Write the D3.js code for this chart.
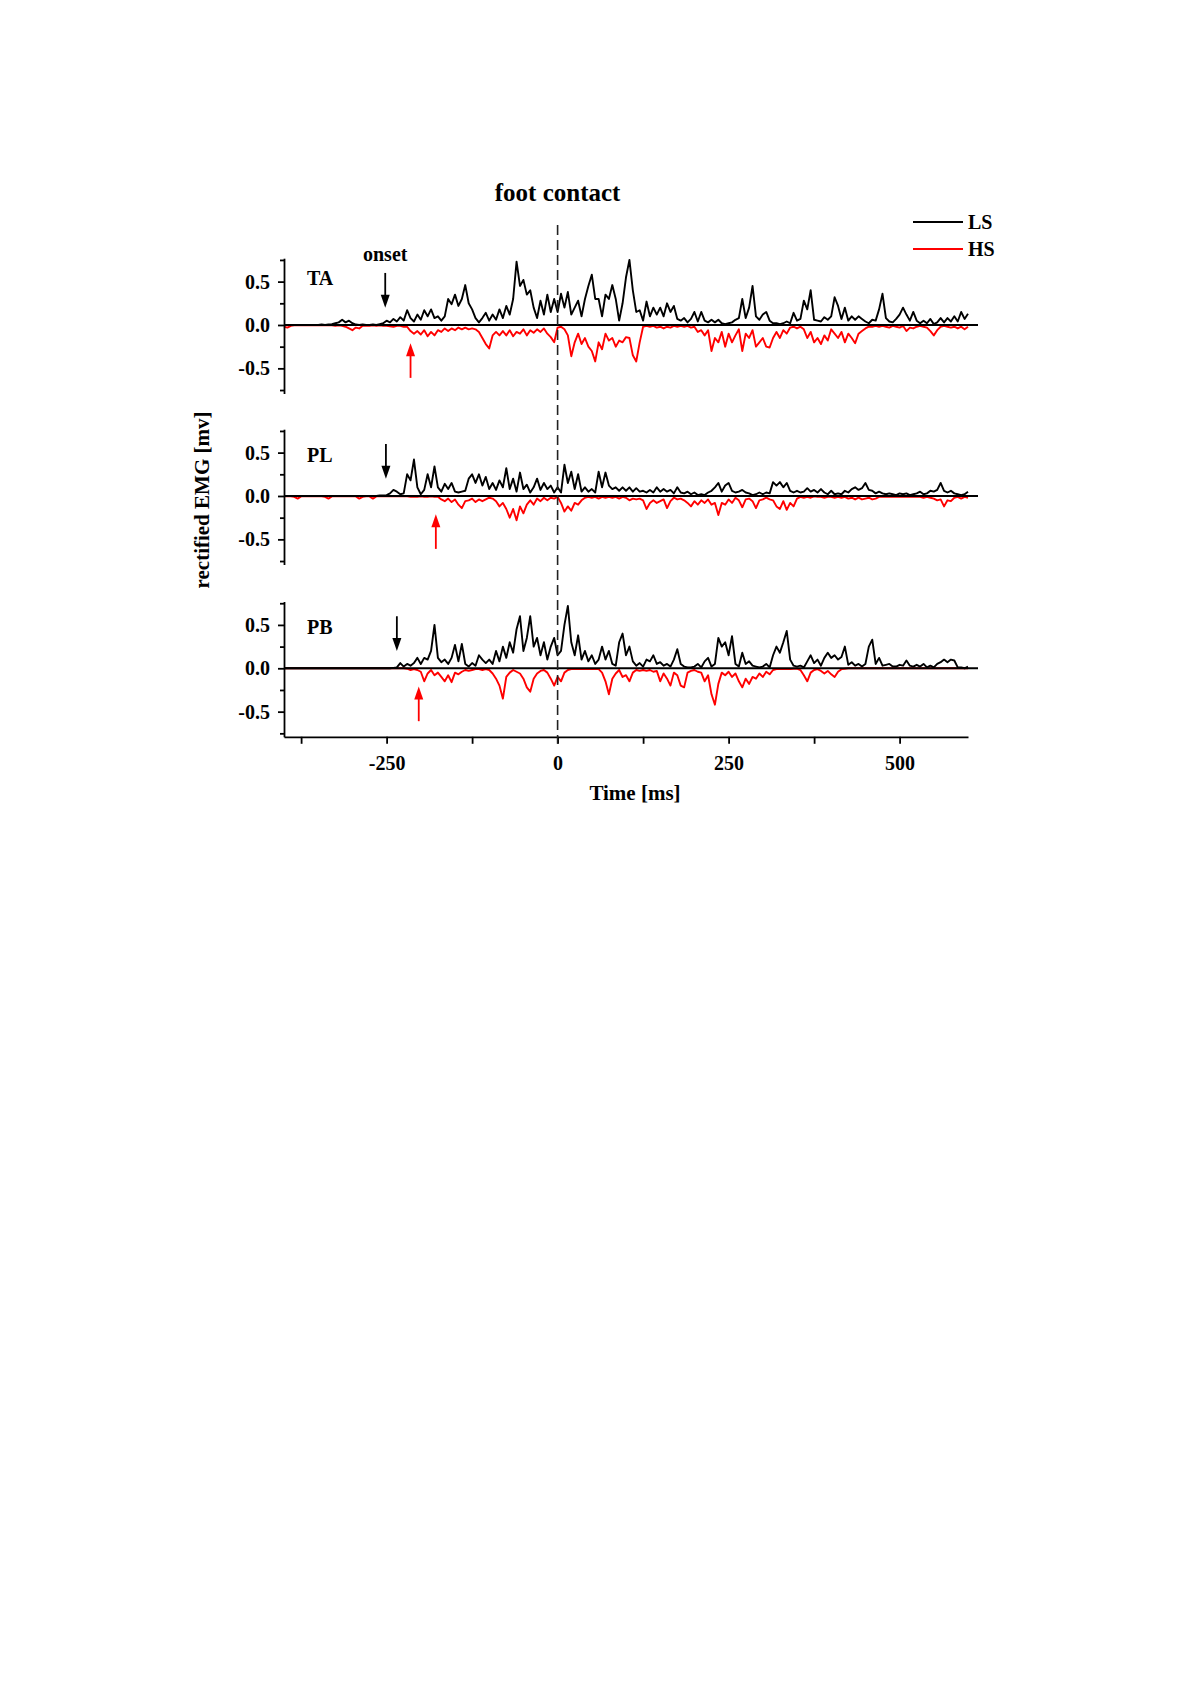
<!DOCTYPE html>
<html lang="en">
<head>
  <meta charset="UTF-8">
  <title>Rectified EMG around foot contact</title>
  <script src="https://d3js.org/d3.v7.min.js"></script>
  <style>
    body { margin: 0; background: #fff; }
    svg { display: block; font-family: "Liberation Serif", "Times New Roman", serif; font-weight: bold; }
    .axis path, .axis line { stroke: #000; stroke-width: 1.8px; }
    .axis text { font-size: 20px; font-weight: bold; fill: #000; font-family: "Liberation Serif", serif; }
  </style>
</head>
<body>
  <svg width="1200" height="1698"></svg>
  <script>
    // samples every 5 ms, starting at -400 ms (one row = 50 ms)
    const tStart = -400, tStep = 5;

    const taLS = [
      0,0,0,0,0,0,0,0,0,0,
      0,0.005,0,0.005,0.01,0.02,0.03,0.06,0.03,0.05,
      0.02,0.005,0,0.005,0,0,0.005,0,0.01,0.02,
      0.05,0.03,0.07,0.04,0.09,0.05,0.17,0.08,0.04,0.12,
      0.06,0.17,0.1,0.18,0.08,0.1,0.05,0.1,0.3,0.24,
      0.35,0.22,0.3,0.46,0.25,0.18,0.08,0.03,0.08,0.14,
      0.05,0.12,0.06,0.18,0.08,0.22,0.12,0.3,0.73,0.45,
      0.52,0.35,0.4,0.2,0.08,0.28,0.12,0.35,0.15,0.3,
      0.15,0.36,0.2,0.38,0.12,0.2,0.28,0.1,0.3,0.45,
      0.58,0.3,0.3,0.1,0.35,0.3,0.46,0.3,0.05,0.25,
      0.55,0.75,0.4,0.15,0.17,0.05,0.27,0.1,0.2,0.12,
      0.2,0.1,0.25,0.15,0.22,0.07,0.05,0.08,0.03,0.07,
      0.15,0.04,0.15,0.05,0.03,0.06,0.03,0.06,0.02,0.01,
      0.02,0.03,0.06,0.08,0.3,0.08,0.2,0.45,0.1,0.06,
      0.12,0.15,0.05,0.02,0.02,0.01,0.02,0.04,0.02,0.14,
      0.05,0.07,0.28,0.18,0.4,0.06,0.05,0.04,0.09,0.06,
      0.1,0.32,0.22,0.07,0.2,0.05,0.1,0.06,0.1,0.07,
      0.04,0.02,0.06,0.05,0.18,0.36,0.08,0.04,0.03,0.07,
      0.12,0.2,0.12,0.05,0.15,0.05,0.02,0.05,0.02,0.07,
      0.01,0.03,0.08,0.03,0.08,0.04,0.1,0.04,0.15,0.07,
      0.13
    ];
    const taHS = [
      -0.02,-0.03,-0.01,-0.005,-0.005,-0.005,-0.005,-0.005,-0.005,-0.005,
      -0.005,-0.005,-0.005,-0.005,-0.005,-0.01,-0.005,-0.01,-0.02,-0.04,
      -0.06,-0.03,-0.04,-0.01,-0.01,-0.01,-0.005,-0.01,-0.005,-0.01,
      -0.01,-0.015,-0.02,-0.01,-0.01,-0.02,-0.02,-0.07,-0.1,-0.07,
      -0.11,-0.06,-0.13,-0.08,-0.12,-0.06,-0.08,-0.04,-0.07,-0.04,
      -0.06,-0.03,-0.05,-0.03,-0.05,-0.04,-0.05,-0.08,-0.15,-0.22,
      -0.27,-0.12,-0.08,-0.12,-0.07,-0.12,-0.06,-0.13,-0.08,-0.1,
      -0.05,-0.12,-0.06,-0.09,-0.05,-0.08,-0.04,-0.1,-0.14,-0.2,
      -0.03,-0.02,-0.05,-0.12,-0.36,-0.2,-0.1,-0.22,-0.15,-0.25,
      -0.3,-0.42,-0.2,-0.28,-0.1,-0.18,-0.15,-0.25,-0.18,-0.2,
      -0.14,-0.15,-0.35,-0.42,-0.2,-0.02,-0.01,-0.02,-0.01,-0.03,
      -0.02,-0.04,-0.02,-0.03,-0.01,-0.02,-0.01,-0.02,-0.01,-0.03,
      -0.02,-0.08,-0.06,-0.12,-0.06,-0.3,-0.15,-0.2,-0.08,-0.25,
      -0.1,-0.2,-0.12,-0.05,-0.3,-0.1,-0.15,-0.06,-0.25,-0.2,
      -0.15,-0.25,-0.26,-0.15,-0.08,-0.15,-0.06,-0.1,-0.03,-0.02,
      -0.04,-0.02,-0.05,-0.15,-0.08,-0.2,-0.15,-0.22,-0.12,-0.18,
      -0.05,-0.1,-0.15,-0.08,-0.2,-0.1,-0.15,-0.21,-0.1,-0.07,
      -0.04,-0.02,-0.02,-0.01,-0.02,-0.01,-0.02,-0.03,-0.01,-0.02,
      -0.03,-0.01,-0.07,-0.03,-0.04,-0.02,-0.01,-0.02,-0.03,-0.07,
      -0.12,-0.06,-0.02,-0.01,-0.02,-0.03,-0.02,-0.04,-0.02,-0.05,
      -0.02
    ];
    const plLS = [
      0,0,0,0,0,0,0,0,0,0,
      0,0,0,0,0,0,0,0,0,0,
      0,0,0,0,0,0,0,0,0.005,0.005,
      0.01,0.03,0.07,0.05,0.02,0.03,0.25,0.18,0.42,0.1,
      0.02,0.07,0.25,0.1,0.34,0.1,0.05,0.14,0.08,0.15,
      0.05,0.04,0.05,0.06,0.2,0.25,0.15,0.25,0.12,0.22,
      0.08,0.15,0.07,0.18,0.1,0.32,0.08,0.2,0.05,0.27,
      0.08,0.13,0.04,0.1,0.2,0.07,0.15,0.08,0.12,0.04,
      0.1,0.04,0.36,0.15,0.28,0.08,0.25,0.05,0.1,0.05,
      0.08,0.04,0.28,0.1,0.27,0.12,0.08,0.1,0.06,0.1,
      0.06,0.1,0.05,0.09,0.05,0.06,0.04,0.07,0.04,0.1,
      0.05,0.08,0.05,0.07,0.03,0.1,0.04,0.03,0.05,0.02,
      0.04,0.01,0.02,0.01,0.04,0.06,0.1,0.15,0.05,0.12,
      0.15,0.06,0.04,0.05,0.07,0.04,0.03,0.01,0.02,0.04,
      0.02,0.04,0.03,0.16,0.12,0.16,0.1,0.15,0.06,0.04,
      0.06,0.04,0.05,0.09,0.05,0.07,0.04,0.08,0.04,0.02,
      0.06,0.02,0.03,0.02,0.06,0.04,0.08,0.1,0.07,0.09,
      0.15,0.07,0.06,0.03,0.05,0.03,0.02,0.03,0.02,0.01,
      0.03,0.02,0.03,0.01,0.02,0.03,0.05,0.02,0.03,0.06,
      0.05,0.07,0.15,0.06,0.04,0.06,0.03,0.02,0.01,0.02,
      0.05
    ];
    const plHS = [
      -0.005,-0.005,-0.005,-0.01,-0.03,-0.005,-0.005,-0.005,-0.005,-0.005,
      -0.005,-0.005,-0.01,-0.03,-0.005,-0.005,-0.005,-0.005,-0.005,-0.005,
      -0.005,-0.005,-0.03,-0.01,-0.005,-0.005,-0.03,-0.005,-0.005,-0.005,
      -0.005,-0.005,-0.005,-0.005,-0.005,-0.005,-0.005,-0.01,-0.01,-0.01,
      -0.005,-0.01,-0.01,-0.005,-0.01,-0.01,-0.04,-0.06,-0.03,-0.07,
      -0.04,-0.1,-0.14,-0.06,-0.05,-0.03,-0.07,-0.04,-0.06,-0.04,
      -0.02,-0.03,-0.06,-0.12,-0.08,-0.15,-0.25,-0.15,-0.28,-0.12,
      -0.2,-0.1,-0.05,-0.1,-0.03,-0.06,-0.02,-0.05,-0.02,-0.03,
      -0.01,-0.08,-0.18,-0.12,-0.17,-0.08,-0.1,-0.05,-0.02,-0.01,
      -0.02,-0.01,-0.03,-0.01,-0.02,-0.01,-0.02,-0.01,-0.03,-0.01,
      -0.02,-0.05,-0.03,-0.04,-0.03,-0.05,-0.15,-0.08,-0.05,-0.08,
      -0.06,-0.04,-0.14,-0.06,-0.02,-0.04,-0.03,-0.05,-0.08,-0.12,
      -0.06,-0.1,-0.05,-0.08,-0.04,-0.1,-0.08,-0.22,-0.08,-0.1,
      -0.04,-0.08,-0.02,-0.05,-0.13,-0.04,-0.03,-0.06,-0.14,-0.05,
      -0.04,-0.02,-0.04,-0.05,-0.12,-0.15,-0.06,-0.16,-0.08,-0.12,
      -0.03,-0.01,-0.02,-0.01,-0.02,-0.005,-0.01,-0.01,-0.02,-0.01,
      -0.01,-0.02,-0.01,-0.02,-0.01,-0.03,-0.02,-0.04,-0.02,-0.04,
      -0.03,-0.02,-0.04,-0.03,-0.01,-0.01,-0.01,-0.01,-0.01,-0.01,
      -0.01,-0.01,-0.01,-0.01,-0.01,-0.01,-0.01,-0.02,-0.01,-0.02,
      -0.03,-0.05,-0.04,-0.12,-0.05,-0.06,-0.02,-0.01,-0.03,-0.01,
      -0.02
    ];
    const pbLS = [
      0,0,0,0,0,0,0,0,0,0,
      0,0,0,0,0,0,0,0,0,0,
      0,0,0,0,0,0,0,0,0,0,
      0,0,0.005,0.01,0.06,0.02,0.05,0.03,0.06,0.12,
      0.05,0.12,0.1,0.2,0.5,0.12,0.07,0.1,0.05,0.12,
      0.27,0.08,0.28,0.05,0.02,0.06,0.03,0.15,0.1,0.06,
      0.1,0.05,0.2,0.08,0.25,0.12,0.3,0.18,0.45,0.6,
      0.2,0.35,0.6,0.25,0.35,0.15,0.3,0.1,0.25,0.35,
      0.15,0.2,0.5,0.72,0.3,0.15,0.38,0.1,0.2,0.08,
      0.15,0.05,0.1,0.25,0.1,0.2,0.05,0.03,0.3,0.4,
      0.15,0.25,0.08,0.03,0.06,0.02,0.1,0.08,0.15,0.05,
      0.07,0.03,0.05,0.02,0.1,0.22,0.05,0.02,0.01,0.01,
      0.02,0.05,0.01,0.08,0.12,0.02,0.05,0.35,0.25,0.3,
      0.15,0.37,0.05,0.02,0.18,0.05,0.08,0.03,0.02,0.01,
      0.02,0.05,0.01,0.15,0.25,0.18,0.3,0.43,0.1,0.03,
      0.02,0.03,0.01,0.08,0.15,0.06,0.1,0.03,0.12,0.18,
      0.12,0.15,0.1,0.13,0.25,0.04,0.07,0.03,0.05,0.02,
      0.05,0.25,0.33,0.05,0.12,0.03,0.04,0.05,0.02,0.02,
      0.04,0.03,0.09,0.03,0.02,0.04,0.02,0.05,0.01,0.03,
      0.01,0.05,0.07,0.1,0.07,0.1,0.09,0.01,0.01,0,
      0.02
    ];
    const pbHS = [
      0,0,0,0,0,0,0,0,0,0,
      0,0,0,0,0,0,0,0,0,0,
      0,0,0,0,0,0,0,0,0,0,
      0,0,0,0,0,0,-0.005,-0.02,-0.01,-0.02,
      -0.04,-0.15,-0.06,-0.02,-0.08,-0.05,-0.1,-0.15,-0.08,-0.16,
      -0.05,-0.07,-0.04,-0.02,-0.03,-0.02,-0.01,-0.01,-0.02,-0.01,
      -0.02,-0.06,-0.12,-0.2,-0.35,-0.1,-0.05,-0.02,-0.04,-0.06,
      -0.12,-0.22,-0.27,-0.12,-0.06,-0.03,-0.02,-0.05,-0.12,-0.2,
      -0.1,-0.15,-0.05,-0.02,-0.01,-0.01,-0.01,-0.01,-0.01,-0.01,
      -0.01,-0.01,-0.01,-0.05,-0.15,-0.3,-0.12,-0.06,-0.02,-0.1,
      -0.08,-0.15,-0.05,-0.02,-0.03,-0.02,-0.03,-0.02,-0.04,-0.03,
      -0.15,-0.06,-0.12,-0.2,-0.05,-0.08,-0.2,-0.22,-0.05,-0.03,
      -0.02,-0.04,-0.05,-0.15,-0.08,-0.3,-0.42,-0.18,-0.05,-0.08,
      -0.04,-0.1,-0.06,-0.15,-0.22,-0.12,-0.18,-0.1,-0.12,-0.06,
      -0.1,-0.04,-0.07,-0.02,-0.01,-0.01,-0.01,-0.01,-0.01,-0.005,
      -0.005,-0.02,-0.08,-0.15,-0.05,-0.02,-0.01,-0.03,-0.06,-0.03,
      -0.07,-0.1,-0.04,-0.01,-0.005,0,0,0,0,0,
      0,0,0,0,0,0,0,0,0,0,
      0,0,0,0,0,0,0,0,0,0,
      0,0,0,0,0,0,0,0,0,0,
      0
    ];

    const muscles = ["TA", "PL", "PB"];
    const seriesLS = [taLS, plLS, pbLS];
    const seriesHS = [taHS, plHS, pbHS];
    const onsetLS = [-252, -251, -235];   // black arrows (ms)
    const onsetHS = [-215, -178, -203];   // red arrows (ms)
    const xMajor = [-250, 0, 250, 500];
    const xMinor = [-375, -125, 125, 375];
    const yMajor = [-0.5, 0, 0.5];
    const yMinor = [-0.75, -0.25, 0.25, 0.75];

    const svg = d3.select("svg");
    const x = d3.scaleLinear().domain([-400, 600]).range([284, 968]);
    const panelTops = [258.2, 429.2, 601.5];
    const panelH = 135.3;
    const fmt = d => d.toFixed(1);

    function toPoints(arr) {
      return arr.map((v, i) => [tStart + i * tStep, v]);
    }

    muscles.forEach((m, p) => {
      const top = panelTops[p];
      const y = d3.scaleLinear().domain([-0.79, 0.77]).range([top + panelH, top]);
      const g = svg.append("g");
      const line = d3.line().x(d => x(d[0])).y(d => y(d[1]));

      g.append("path")
        .datum(toPoints(seriesHS[p]))
        .attr("d", line)
        .attr("fill", "none")
        .attr("stroke", "#f00")
        .attr("stroke-width", 1.9)
        .attr("stroke-linejoin", "round");

      g.append("path")
        .datum(toPoints(seriesLS[p]))
        .attr("d", line)
        .attr("fill", "none")
        .attr("stroke", "#000")
        .attr("stroke-width", 1.9)
        .attr("stroke-linejoin", "round");

      // zero line
      g.append("line")
        .attr("x1", x.range()[0]).attr("x2", x.range()[1] + 10)
        .attr("y1", y(0)).attr("y2", y(0))
        .attr("stroke", "#000").attr("stroke-width", 2);

      // y axis: major + minor ticks
      g.append("g").attr("class", "axis")
        .attr("transform", `translate(${x.range()[0]},0)`)
        .call(d3.axisLeft(y).tickValues(yMajor).tickFormat(fmt).tickSize(6).tickPadding(8).tickSizeOuter(0));
      g.append("g").attr("class", "axis")
        .attr("transform", `translate(${x.range()[0]},0)`)
        .call(d3.axisLeft(y).tickValues(yMinor).tickFormat("").tickSize(4).tickSizeOuter(0))
        .select(".domain").remove();

      // muscle label
      g.append("text")
        .attr("x", 307).attr("y", p === 0 ? y(0) - 40 : y(0) - 34)
        .attr("font-size", 20)
        .text(m);

      // onset arrows
      const xa = x(onsetLS[p]);
      g.append("line")
        .attr("x1", xa).attr("x2", xa)
        .attr("y1", y(0.6)).attr("y2", y(0.2) - 8)
        .attr("stroke", "#000").attr("stroke-width", 1.8);
      g.append("path")
        .attr("d", `M${xa},${y(0.2)} L${xa - 4.5},${y(0.2) - 13} L${xa + 4.5},${y(0.2) - 13} Z`)
        .attr("fill", "#000");

      const xr = x(onsetHS[p]);
      g.append("line")
        .attr("x1", xr).attr("x2", xr)
        .attr("y1", y(-0.61)).attr("y2", y(-0.21) + 8)
        .attr("stroke", "#f00").attr("stroke-width", 1.8);
      g.append("path")
        .attr("d", `M${xr},${y(-0.21)} L${xr - 4.5},${y(-0.21) + 13} L${xr + 4.5},${y(-0.21) + 13} Z`)
        .attr("fill", "#f00");

      if (p === 0) {
        g.append("text")
          .attr("x", xa).attr("y", y(0.6) - 12)
          .attr("text-anchor", "middle")
          .attr("font-size", 20)
          .text("onset");
      }

      if (p === 2) {
        const xb = top + panelH;
        svg.append("g").attr("class", "axis")
          .attr("transform", `translate(0,${xb})`)
          .call(d3.axisBottom(x).tickValues(xMajor).tickFormat(d => d).tickSize(7).tickPadding(12).tickSizeOuter(0));
        svg.append("g").attr("class", "axis")
          .attr("transform", `translate(0,${xb})`)
          .call(d3.axisBottom(x).tickValues(xMinor).tickFormat("").tickSize(7).tickSizeOuter(0))
          .select(".domain").remove();
      }
    });

    // foot contact dashed line
    svg.append("line")
      .attr("x1", x(0)).attr("x2", x(0))
      .attr("y1", 225).attr("y2", panelTops[2] + panelH + 7)
      .attr("stroke", "#222").attr("stroke-width", 1.6)
      .attr("stroke-dasharray", "10,5");

    svg.append("text")
      .attr("x", x(0)).attr("y", 201)
      .attr("text-anchor", "middle")
      .attr("font-size", 25)
      .text("foot contact");

    svg.append("text")
      .attr("x", 635).attr("y", 800)
      .attr("text-anchor", "middle")
      .attr("font-size", 21)
      .text("Time [ms]");

    svg.append("text")
      .attr("transform", "translate(209,500) rotate(-90)")
      .attr("text-anchor", "middle")
      .attr("font-size", 21)
      .text("rectified EMG [mv]");

    // legend
    const legend = [["LS", "#000"], ["HS", "#f00"]];
    legend.forEach(([name, col], i) => {
      const ly = 222 + i * 27;
      svg.append("line")
        .attr("x1", 913).attr("x2", 963)
        .attr("y1", ly).attr("y2", ly)
        .attr("stroke", col).attr("stroke-width", 1.8);
      svg.append("text")
        .attr("x", 968).attr("y", ly).attr("dy", "0.35em")
        .attr("font-size", 20)
        .text(name);
    });
  </script>
</body>
</html>
